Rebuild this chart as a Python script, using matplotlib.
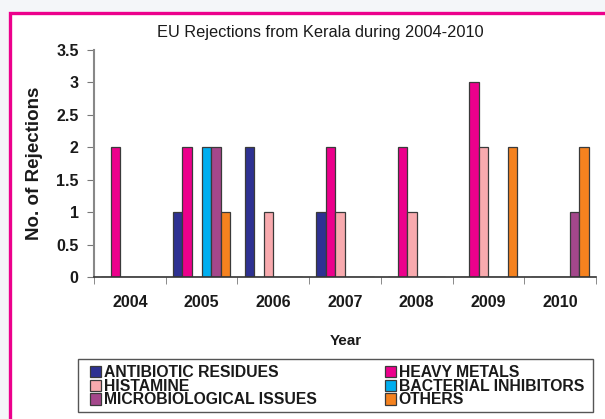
import numpy as np
import matplotlib.pyplot as plt
from matplotlib.patches import Rectangle

plt.rcParams['font.family'] = ['Liberation Sans', 'DejaVu Sans']

years = ['2004', '2005', '2006', '2007', '2008', '2009', '2010']
series = ['ANTIBIOTIC RESIDUES', 'HEAVY METALS', 'HISTAMINE',
          'BACTERIAL INHIBITORS', 'MICROBIOLOGICAL ISSUES', 'OTHERS']
antibiotic = [0, 1, 2, 1, 0, 0, 0]
heavy_metals = [2, 2, 0, 2, 2, 3, 0]
histamine = [0, 0, 1, 1, 1, 2, 0]
bacterial = [0, 2, 0, 0, 0, 0, 0]
microbio = [0, 2, 0, 0, 0, 0, 1]
others = [0, 1, 0, 0, 0, 2, 2]
values = [antibiotic, heavy_metals, histamine, bacterial, microbio, others]
colors = ['#2e3192', '#ec008c', '#f8aaae', '#00aeef', '#a4478b', '#f5821f']

fig = plt.figure(figsize=(6.05, 4.19), dpi=100)
fig.patch.set_facecolor('#f4f6f9')
# pink frame around the chart
fig.add_artist(Rectangle((10/605, -0.05), 1.2, 1 - 13/419 + 0.05,
                         transform=fig.transFigure, facecolor='white',
                         edgecolor='#ec008c', linewidth=2.4, zorder=0))
# legend box
fig.add_artist(Rectangle((78/605, 1 - 412/419), 515/605, 53/419,
                         transform=fig.transFigure, facecolor='none',
                         edgecolor='#555555', linewidth=1.0))

ax = fig.add_axes([94/605, 1 - 277/419, 502/605, 227/419])
ax.set_facecolor('none')

x = np.arange(len(years))
w = 0.8 / len(series)
bars = []
for i, (vals, c) in enumerate(zip(values, colors)):
    b = ax.bar(x - 0.4 + w * (i + 0.5), vals, w, color=c,
               edgecolor='#3a3a3a', linewidth=0.9, label=series[i])
    bars.append(b)

ax.set_xlim(-0.5, 6.5)
ax.set_ylim(0, 3.5)
ax.set_yticks(np.arange(0, 3.51, 0.5))
ax.set_yticklabels(['0', '0.5', '1', '1.5', '2', '2.5', '3', '3.5'])
ax.set_xticks(x)
ax.set_xticklabels(years)
ax.set_xticks(np.arange(-0.5, 7, 1), minor=True)
ax.tick_params(axis='x', which='major', length=0, pad=13)
ax.tick_params(axis='x', which='minor', length=5, direction='out', color='#777777')
ax.tick_params(axis='y', length=5, direction='out', color='#777777', pad=6)
for lab in ax.get_xticklabels() + ax.get_yticklabels():
    lab.set_fontweight('bold')
    lab.set_fontsize(11.5)
    lab.set_color('#1a1a1a')

ax.spines['top'].set_visible(False)
ax.spines['right'].set_visible(False)
ax.spines['left'].set_color('#888888')
ax.spines['left'].set_linewidth(1.5)
ax.spines['bottom'].set_color('#333333')
ax.spines['bottom'].set_linewidth(1.2)

fig.text(0.53, 1 - 32/419, 'EU Rejections from Kerala during 2004-2010',
         ha='center', va='center', fontsize=11.8, color='#1a1a1a')
fig.text(35/605, 1 - 163/419, 'No. of Rejections', rotation=90,
         ha='center', va='center', fontsize=13.5, fontweight='bold', color='#1a1a1a')
fig.text(346/605, 1 - 341/419, 'Year', ha='center', va='center',
         fontsize=11, fontweight='bold', color='#1a1a1a')

order = [0, 2, 4, 1, 3, 5]
leg = fig.legend([bars[i] for i in order], [series[i] for i in order],
                 ncol=2, loc='upper left',
                 bbox_to_anchor=(90/605, 1 - 411/419, 494/605, 46/419),
                 mode='expand', frameon=False,
                 prop={'weight': 'bold', 'size': 11.3},
                 handlelength=0.72, handleheight=0.72, handletextpad=0.15,
                 labelspacing=-0.08, borderpad=0.0, columnspacing=1.0,
                 borderaxespad=0)
for t in leg.get_texts():
    t.set_color('#1a1a1a')

fig.savefig('out.png', dpi=100, facecolor=fig.get_facecolor())
